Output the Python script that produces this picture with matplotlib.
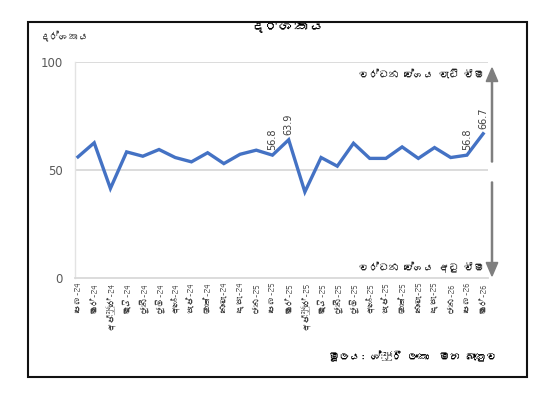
import matplotlib
matplotlib.use("Agg")
import matplotlib.pyplot as plt
from matplotlib import font_manager
from matplotlib.patches import Rectangle, FancyArrow

# ---------------- data ----------------
months = ['පෙබ-24', 'මාර්-24', 'අප්‍රේ-24', 'මැයි-24', 'ජූනි-24', 'ජූලි-24',
          'අගෝ-24', 'සැප්-24', 'ඔක්-24', 'නොවැ-24', 'දෙසැ-24',
          'ජන-25', 'පෙබ-25', 'මාර්-25', 'අප්‍රේ-25', 'මැයි-25', 'ජූනි-25', 'ජූලි-25',
          'අගෝ-25', 'සැප්-25', 'ඔක්-25', 'නොවැ-25', 'දෙසැ-25',
          'ජන-26', 'පෙබ-26', 'මාර්-26']
index_values = [56.0, 62.5, 41.4, 58.3, 56.3, 59.4, 55.7, 53.7, 57.9, 52.9,
                57.2, 59.1, 56.8, 63.9, 39.8, 55.7, 51.7, 62.3, 55.3, 55.3,
                60.6, 55.3, 60.3, 55.7, 56.8, 66.7]
labelled_points = [12, 13, 24, 25]
y_ticks = [0, 50, 100]

title_text = 'දර්ශකය'
ylabel_text = 'දර්ශකය'
up_text = 'වර්ධන වේගය වැඩි වීම'
down_text = 'වර්ධන වේගය අඩු වීම'
source_text = 'මූලය: ශ්‍රී ලංකා  මහ බැංකුව'


# ------------- font with Sinhala coverage -------------
def find_font(ch):
    try:
        from fontTools.ttLib import TTFont
    except Exception:
        return None
    for f in font_manager.fontManager.ttflist:
        try:
            t = TTFont(f.fname, fontNumber=0, lazy=True)
            cmap = t.getBestCmap()
            if cmap and ord(ch) in cmap:
                return f.name
        except Exception:
            pass
    return None


sin = find_font('ද')
families = ([sin] if sin else []) + ['DejaVu Sans']
plt.rcParams['font.family'] = families

W, H = 548, 397
fig = plt.figure(figsize=(W / 100, H / 100), dpi=100)
fig.patch.set_facecolor('white')


def fx(px):
    return px / W


def fy(py):
    return 1 - py / H


# axes: left spine at x=75, right at 488; y 0 at 278, 100 at 61.7
ax = fig.add_axes([fx(75), fy(278), fx(488) - fx(75), fy(61.7) - fy(278)])
x = list(range(len(months)))
ax.plot(x, index_values, color='#4472C4', lw=2.4, solid_joinstyle='miter', zorder=3)
ax.set_xlim(-0.185, 25.3)
ax.set_ylim(0, 100)

for s in ['top', 'right']:
    ax.spines[s].set_visible(False)
ax.spines['left'].set_color('#E3E3E3')
ax.spines['left'].set_linewidth(1.0)
ax.spines['bottom'].set_color('#D9D9D9')
ax.spines['bottom'].set_linewidth(1.3)
for yv in [50, 100]:
    ax.axhline(yv, color='#D9D9D9', lw=1.3, zorder=1)

ax.set_yticks(y_ticks)
ax.set_yticklabels([str(v) for v in y_ticks], fontsize=8.5, color='#595959',
                   family='DejaVu Sans')
ax.tick_params(axis='y', length=0, pad=9)
ax.set_xticks(x)
ax.set_xticklabels(months, rotation=90, fontsize=6.3, color='#404040')
ax.tick_params(axis='x', length=0, pad=3)

for i in labelled_points:
    ax.annotate(f'{index_values[i]:.1f}', (x[i], index_values[i]),
                xytext=(0, 3.5), textcoords='offset points', rotation=90,
                ha='center', va='bottom', fontsize=7, color='#404040',
                family='DejaVu Sans')

# arrows
arrow_x = fx(492)
fig.add_artist(FancyArrow(arrow_x, fy(162), 0, fy(68) - fy(162), width=0.002,
                          head_width=0.021, head_length=0.034,
                          length_includes_head=True, color='#7F7F7F',
                          transform=fig.transFigure))
fig.add_artist(FancyArrow(arrow_x, fy(182), 0, fy(276) - fy(182), width=0.002,
                          head_width=0.021, head_length=0.034,
                          length_includes_head=True, color='#7F7F7F',
                          transform=fig.transFigure))

fig.text(fx(484), fy(74), up_text, ha='right', va='center', fontsize=7.2, color='#262626')
fig.text(fx(484), fy(267), down_text, ha='right', va='center', fontsize=7.2, color='#262626')
fig.text(fx(40), fy(37), ylabel_text, ha='left', va='center', fontsize=7.2, color='#404040')
fig.text(fx(497), fy(356), source_text, ha='right', va='center', fontsize=7.6,
         color='#000000', fontweight='bold')

# title, top clipped by the frame
fig.text(fx(287), fy(25), title_text, ha='center', va='center', fontsize=11,
         fontweight='bold', color='#000000', zorder=5)
fig.add_artist(Rectangle((0, fy(21.5)), 1, 1 - fy(21.5), transform=fig.transFigure,
                         facecolor='white', edgecolor='none', zorder=10))
fig.add_artist(Rectangle((fx(28), fy(377)), fx(527) - fx(28), fy(22) - fy(377),
                         transform=fig.transFigure, facecolor='none',
                         edgecolor='#111111', lw=1.5, zorder=11))

fig.savefig('out.png', dpi=100, facecolor='white')
